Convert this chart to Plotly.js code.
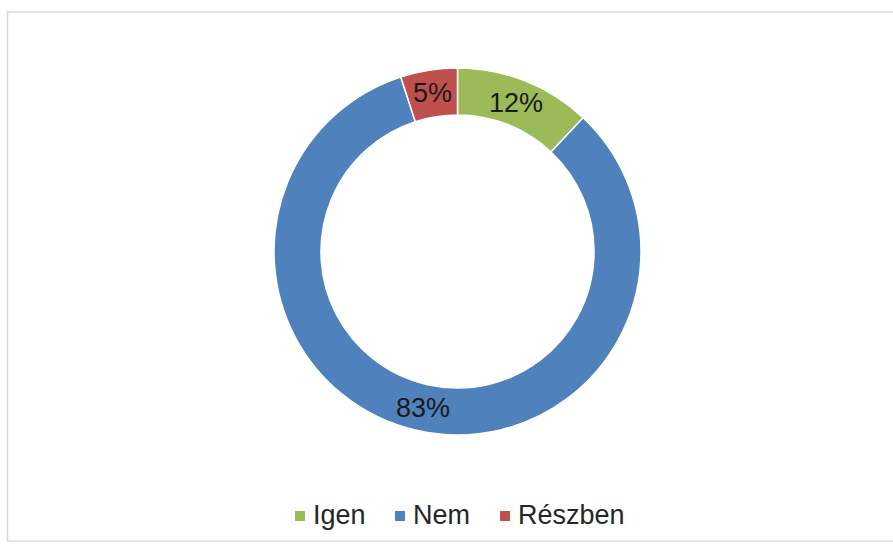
<!DOCTYPE html>
<html>
<head>
<meta charset="utf-8">
<script src="https://cdn.plot.ly/plotly-3.0.1.min.js"></script>
<style>html,body{margin:0;padding:0;background:#fff;}#chart{width:893px;height:545px;}</style>
</head>
<body>
<div id="chart"></div>
<script>
const categories = ["Igen", "Nem", "Részben"];
const values = [12, 83, 5];
const labelsText = ["12%", "83%", "5%"];
const colors = ["#9BBB59", "#4F81BD", "#C0504D"];

const W = 893, H = 545;
const cx = 457.5, cy = 251.5, R = 183.5, hole = 0.744;
const FONT = "Liberation Sans, Arial, sans-serif";

const trace = {
  type: "pie",
  labels: categories,
  values: values,
  textinfo: "none",
  hole: hole,
  sort: false,
  direction: "clockwise",
  rotation: 0,
  marker: { colors: colors, line: { color: "#ffffff", width: 1.5 } },
  domain: { x: [(cx - R) / W, (cx + R) / W], y: [1 - (cy + R) / H, 1 - (cy - R) / H] },
  showlegend: false,
  hoverinfo: "label+percent"
};

// data labels at the middle of each ring segment, derived from the values
const total = values.reduce((a, b) => a + b, 0);
const rMid = R * (1 + hole) / 2;
const annotations = [];
let cum = 0;
values.forEach((v, i) => {
  const mid = (cum + v / 2) / total * 2 * Math.PI;
  cum += v;
  const px = cx + rMid * Math.sin(mid);
  const py = cy - rMid * Math.cos(mid);
  annotations.push({
    xref: "paper", yref: "paper", x: px / W, y: 1 - py / H,
    xanchor: "center", yanchor: "middle", showarrow: false,
    text: labelsText[i], font: { family: FONT, size: 27, color: "#1a1a1a" }
  });
});

// legend: small squares followed by the category names
const legendSquareX = [300, 400, 505];
const legendY = 516;
const shapes = [{
  type: "rect", xref: "paper", yref: "paper",
  x0: 7.5 / W, x1: 1.01, y0: 1 - 541 / H, y1: 1 - 12 / H,
  line: { color: "#d9d9d9", width: 1.5 }, fillcolor: "rgba(0,0,0,0)"
}];
categories.forEach((c, i) => {
  const sx = legendSquareX[i];
  shapes.push({
    type: "rect", xref: "paper", yref: "paper",
    x0: (sx - 5) / W, x1: (sx + 5) / W, y0: 1 - (legendY + 5) / H, y1: 1 - (legendY - 5) / H,
    line: { width: 0 }, fillcolor: colors[i]
  });
  annotations.push({
    xref: "paper", yref: "paper", x: (sx + 11) / W, y: 1 - (legendY - 1) / H,
    xanchor: "left", yanchor: "middle", showarrow: false,
    text: c, font: { family: FONT, size: 27, color: "#262626" }
  });
});

const layout = {
  width: W, height: H,
  margin: { l: 0, r: 0, t: 0, b: 0 },
  paper_bgcolor: "#ffffff",
  showlegend: false,
  shapes: shapes,
  annotations: annotations
};

Plotly.newPlot("chart", [trace], layout, { displayModeBar: false, staticPlot: true });
</script>
</body>
</html>
